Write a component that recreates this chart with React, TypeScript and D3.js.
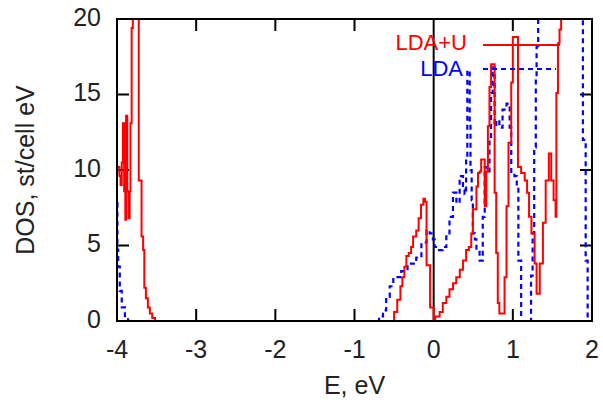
import React from 'react';
import * as d3 from 'd3';

// LDA+U density of states (step data, value holds until next E)
const ldaUE = [
  -4.0, -3.97, -3.955, -3.94, -3.925, -3.91, -3.895, -3.885, -3.87, -3.855, -3.84, -3.83, -3.815, -3.8,
  -3.725, -3.69, -3.67, -3.655, -3.635, -3.61, -3.585, -3.555, -3.52,
  -0.52, -0.5, -0.46, -0.42, -0.395, -0.37, -0.345, -0.315, -0.285, -0.26, -0.22, -0.19, -0.16, -0.13,
  -0.11, -0.09, -0.045, 0.0, 0.02, 0.075, 0.115, 0.16, 0.2, 0.245, 0.285, 0.33, 0.37, 0.41, 0.445,
  0.475, 0.495, 0.54, 0.56, 0.58, 0.6, 0.645, 0.665, 0.685, 0.705, 0.725, 0.77, 0.79, 0.81, 0.83,
  0.895, 0.92, 0.945, 0.98, 1.0, 1.065, 1.105, 1.15, 1.18, 1.205, 1.235, 1.275, 1.3, 1.34, 1.38,
  1.415, 1.455, 1.485, 1.515, 1.54, 1.55, 1.57, 1.59, 1.61, 2.0,
];
const ldaUDos = [
  10.2, 9.6, 9.0, 10.5, 13.1, 8.6, 6.7, 13.6, 8.6, 6.8, 8.6, 13.1, 19.4, 21,
  9.3, 5.6, 4.7, 2.2, 1.5, 0.9, 0.5, 0.2, 0,
  0, 0.6, 1.4, 2.3, 2.9, 3.6, 4.3, 4.5, 4.9, 5.6, 6.0, 6.8, 7.7, 8.1,
  7.9, 3.7, 0.9, 0, 0.3, 0.6, 1.2, 1.6, 2.1, 2.5, 2.9, 3.4, 4.0, 4.7, 4.9,
  5.8, 7.4, 8.9, 9.8, 9.9, 10.7, 7.6, 9.9, 12.9, 15.5, 17.0, 8.5, 4.5, 1.2, 0.5,
  2.9, 7.6, 11.8, 15.8, 18.8, 10.2, 9.8, 9.3, 8.5, 6.9, 5.8, 3.8, 1.8, 3.8, 6.5,
  9.3, 11.1, 9.3, 8.0, 6.9, 15.1, 18.4, 19.3, 21, 21,
];

// LDA density of states
const ldaE = [
  -4.0, -3.995, -3.985, -3.965, -3.94, -3.9, -3.86,
  -0.69, -0.64, -0.6, -0.555, -0.51, -0.41, -0.33, -0.22, -0.155, -0.09, -0.05, -0.01,
  0.013, 0.054, 0.114, 0.16, 0.2, 0.244, 0.287, 0.328, 0.37, 0.39, 0.41, 0.425, 0.455, 0.465,
  0.48, 0.495, 0.52, 0.54, 0.58, 0.62, 0.645, 0.67, 0.705, 0.725, 0.745, 0.77, 0.79, 0.83,
  0.87, 0.92, 0.96, 0.98, 1.02, 1.05, 1.07, 1.105, 1.23, 1.25, 1.27, 1.29, 1.3, 1.32,
  1.885, 1.92, 1.945, 2.0,
];
const ldaDos = [
  7.8, 4.7, 3.6, 2.0, 0.9, 0.2, 0,
  0.3, 0.7, 1.6, 2.3, 2.9, 3.3, 3.8, 4.2, 5.2, 6.0, 5.8, 5.4,
  4.9, 4.7, 4.9, 5.8, 6.9, 8.5, 7.8, 9.6, 8.7, 8.4, 10.7, 16.6, 13.0, 10.0,
  8.0, 5.8, 5.4, 4.7, 4.0, 6.9, 10.2, 9.9, 12.2, 15.1, 16.8, 12.9, 13.3, 12.8,
  14.0, 14.4, 12.8, 9.8, 9.6, 8.9, 4.0, 0, 3.0, 5.8, 11.5, 16.0, 18.2, 21,
  12.0, 4.0, 0, 0,
];

const xTicks = [-4, -3, -2, -1, 0, 1, 2];
const yTicks = [0, 5, 10, 15, 20];

const W = 603;
const H = 404;
const margin = { top: 19, right: 11, bottom: 83, left: 117 };
const font = '"Liberation Sans", Arial, sans-serif';

export default function App() {
  const x = d3.scaleLinear().domain([-4, 2]).range([margin.left, W - margin.right]);
  const y = d3.scaleLinear().domain([0, 20]).range([H - margin.bottom, margin.top]);

  // step curve through (E, DOS)
  const path = (es: number[], ds: number[]) =>
    d3
      .line<number>()
      .x((e) => x(e))
      .y((_, i) => y(ds[i]))
      .curve(d3.curveStepAfter)(es) || '';

  const x0 = x(-4), x1 = x(2), y0 = y(0), y1 = y(20);
  const tick = 12;

  return (
    <svg
      width={W}
      height={H}
      style={{ position: 'absolute', left: 0, top: 0, background: '#fff' }}
      fontFamily={font}
    >
      <defs>
        <clipPath id="plot">
          <rect x={x0} y={y1} width={x1 - x0} height={y0 - y1} />
        </clipPath>
      </defs>

      {/* zero energy line */}
      <line x1={x(0)} x2={x(0)} y1={y1} y2={y0} stroke="#000" strokeWidth={2} />

      {/* ticks, inward on all sides */}
      {xTicks.filter((t) => t > -4 && t < 2 && t !== 0).map((t) => (
        <g key={'xt' + t}>
          <line x1={x(t)} x2={x(t)} y1={y0} y2={y0 - tick} stroke="#000" strokeWidth={2} />
          <line x1={x(t)} x2={x(t)} y1={y1} y2={y1 + tick} stroke="#000" strokeWidth={2} />
        </g>
      ))}
      {yTicks.filter((t) => t > 0 && t < 20).map((t) => (
        <g key={'yt' + t}>
          <line x1={x0} x2={x0 + tick} y1={y(t)} y2={y(t)} stroke="#000" strokeWidth={2} />
          <line x1={x1} x2={x1 - tick} y1={y(t)} y2={y(t)} stroke="#000" strokeWidth={2} />
        </g>
      ))}

      <g clipPath="url(#plot)" fill="none">
        <path d={path(ldaE, ldaDos)} stroke="#0000ff" strokeWidth={2.2} strokeDasharray="5,4" />
        <path d={path(ldaUE, ldaUDos)} stroke="#ff0000" strokeWidth={2} />
      </g>

      {/* frame */}
      <rect x={x0} y={y1} width={x1 - x0} height={y0 - y1} fill="none" stroke="#000" strokeWidth={2} />

      {/* tick labels */}
      {xTicks.map((t) => (
        <text key={'xl' + t} x={x(t)} y={y0 + 30} fontSize={25} textAnchor="middle" dominantBaseline="middle" fill="#222">
          {t}
        </text>
      ))}
      {yTicks.map((t) => (
        <text key={'yl' + t} x={x0 - 16} y={y(t)} fontSize={25} textAnchor="end" dominantBaseline="middle" fill="#222">
          {t}
        </text>
      ))}

      {/* axis titles */}
      <text x={(x0 + x1) / 2} y={387} fontSize={25} textAnchor="middle" dominantBaseline="middle" fill="#222">
        E, eV
      </text>
      <text
        transform={`translate(27,${(y0 + y1) / 2}) rotate(-90)`}
        fontSize={25}
        textAnchor="middle"
        dominantBaseline="middle"
        fill="#222"
      >
        DOS, st/cell eV
      </text>

      {/* legend */}
      <text x={467} y={44} fontSize={22} textAnchor="end" dominantBaseline="middle" fill="#ff0000">
        LDA+U
      </text>
      <line x1={483} x2={560} y1={45} y2={45} stroke="#ff0000" strokeWidth={2} />
      <text x={463} y={70} fontSize={22} textAnchor="end" dominantBaseline="middle" fill="#0000ff">
        LDA
      </text>
      <line x1={483} x2={556} y1={69} y2={69} stroke="#0000ff" strokeWidth={2.2} strokeDasharray="5,4" />
    </svg>
  );
}
